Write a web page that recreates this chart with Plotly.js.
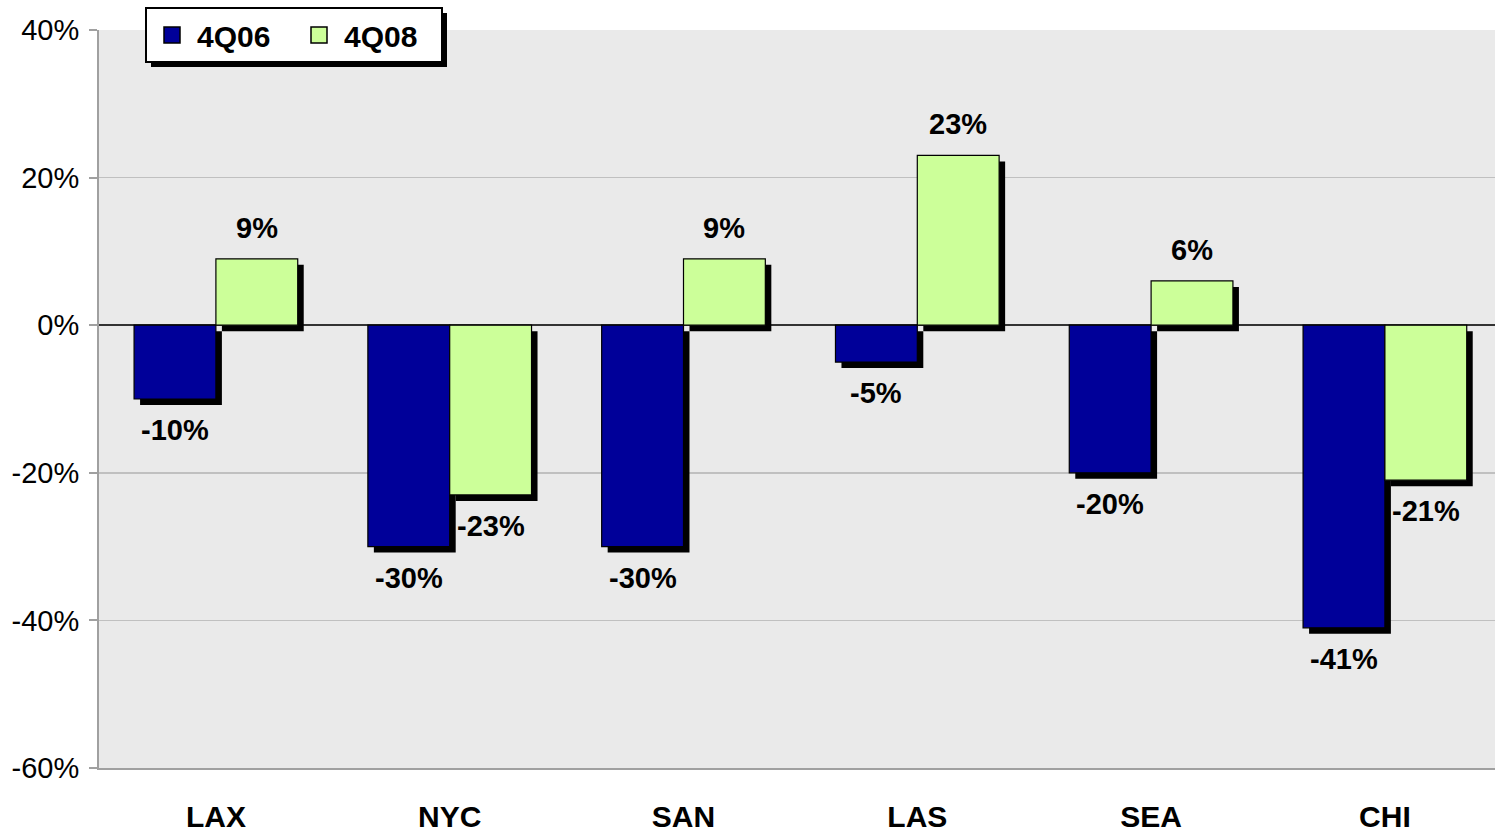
<!DOCTYPE html>
<html>
<head>
<meta charset="utf-8">
<script src="https://cdn.plot.ly/plotly-3.0.1.min.js"></script>
<style>html,body{margin:0;padding:0;background:#fff;}#chart{width:1495px;height:835px;}</style>
</head>
<body>
<div id="chart"></div>
<script>
// ---- data ----
const categories = ['LAX', 'NYC', 'SAN', 'LAS', 'SEA', 'CHI'];
const series1Name = '4Q06';
const series1 = [-10, -30, -30, -5, -20, -41];
const series2Name = '4Q08';
const series2 = [9, -23, 9, 23, 6, -21];
const yTickVals = [40, 20, 0, -20, -40, -60];

// ---- style ----
const W = 1495, H = 835;
const M = {l: 99, r: 0, t: 30, b: 67};
const plotW = W - M.l - M.r, plotH = H - M.t - M.b;
const pxPerCat = 233.8; // plot area runs slightly past the right edge of the picture
const xRange = [-0.5, -0.5 + plotW / pxPerCat];
const yRange = [-60, 40];
const pxPerY = plotH / (yRange[1] - yRange[0]);
const shadowPx = 6;
const dx = shadowPx / pxPerCat, dy = shadowPx / pxPerY;
const barW = 0.35;
const off1 = -barW, off2 = 0;
const FONT = 'Arial, "Liberation Sans", sans-serif';
const C1 = '#000099', C2 = '#CCFF99';
const idx = categories.map((_, i) => i);

function shadowTrace(vals, off) {
  return {type: 'bar', x: idx, y: vals, base: vals.map(() => -dy), offset: off + dx, width: barW,
    marker: {color: '#000000', line: {width: 0}}, showlegend: false, hoverinfo: 'skip'};
}
function barTrace(vals, off, name, color) {
  return {type: 'bar', x: idx, y: vals, offset: off, width: barW, name: name, showlegend: false,
    marker: {color: color, line: {color: '#000000', width: 1.2}}};
}
function legendTrace(name, color) {
  return {type: 'scatter', mode: 'markers', x: [null], y: [null], name: name, showlegend: true,
    marker: {symbol: 'square', size: 17, color: color, line: {color: '#000000', width: 1.5}}};
}

const traces = [
  shadowTrace(series1, off1),
  shadowTrace(series2, off2),
  barTrace(series1, off1, series1Name, C1),
  barTrace(series2, off2, series2Name, C2),
  legendTrace(series1Name, C1),
  legendTrace(series2Name, C2)
];

const annotations = [];
[[series1, off1], [series2, off2]].forEach(([vals, off]) => {
  vals.forEach((v, i) => {
    annotations.push({x: i + off + barW / 2, y: v, xref: 'x', yref: 'y', text: v + '%', showarrow: false,
      yshift: v >= 0 ? 31 : -31, font: {family: FONT, size: 29, color: '#000', weight: 700}});
  });
});

const toPX = px => (px - M.l) / plotW;
const toPY = py => (H - M.b - py) / plotH;

const layout = {
  width: W, height: H,
  margin: M,
  paper_bgcolor: '#ffffff',
  plot_bgcolor: '#EAEAEA',
  barmode: 'overlay',
  font: {family: FONT, color: '#000'},
  showlegend: true,
  legend: {orientation: 'h', x: toPX(145), xanchor: 'left', y: toPY(7), yanchor: 'top',
    bgcolor: '#ffffff', bordercolor: '#000000', borderwidth: 2, itemwidth: 40, itemsizing: 'trace',
    entrywidth: 92, entrywidthmode: 'pixels',
    font: {family: FONT, size: 30, color: '#000', weight: 700}, traceorder: 'normal'},
  xaxis: {range: xRange, tickvals: idx, ticktext: categories, ticks: '', showgrid: false, zeroline: false,
    showline: true, linecolor: '#A0A0A0', linewidth: 2, ticklabelstandoff: 21,
    tickfont: {family: FONT, size: 30, color: '#000', weight: 700}, fixedrange: true},
  xaxis2: {range: xRange, overlaying: 'x', anchor: 'free', position: (0 - yRange[0]) / (yRange[1] - yRange[0]),
    tickvals: idx.slice(1).map(i => i - 0.5), ticks: 'outside', ticklen: 7, tickcolor: '#404040', tickwidth: 1,
    showticklabels: false, showgrid: false, zeroline: false, showline: false},
  yaxis: {range: yRange, tickvals: yTickVals, ticktext: yTickVals.map(v => v + '%'), ticks: 'outside', ticklen: 8,
    tickcolor: '#A0A0A0', tickwidth: 2, showgrid: true, gridcolor: '#C0C0C0', gridwidth: 1.5,
    zeroline: true, zerolinecolor: '#333333', zerolinewidth: 1.5,
    showline: true, linecolor: '#A0A0A0', linewidth: 2, ticklabelstandoff: 4,
    tickfont: {family: FONT, size: 29, color: '#000'}, fixedrange: true},
  shapes: [],
  annotations: annotations
};

Plotly.newPlot('chart', traces, layout, {displayModeBar: false, staticPlot: true}).then(gd => {
  // drop shadow behind the legend box, sized from the rendered legend
  const bg = gd.querySelector('.legend .bg');
  if (!bg) return;
  const r = bg.getBoundingClientRect();
  const c = gd.getBoundingClientRect();
  const x0 = r.left - c.left, x1 = r.right - c.left, y0 = r.top - c.top, y1 = r.bottom - c.top;
  Plotly.relayout(gd, {shapes: [{type: 'rect', xref: 'paper', yref: 'paper',
    x0: toPX(x0 + 5), x1: toPX(x1 + 5), y0: toPY(y1 + 5), y1: toPY(y0 + 5),
    fillcolor: '#000000', line: {width: 0}, layer: 'above'}]});
});
</script>
</body>
</html>
